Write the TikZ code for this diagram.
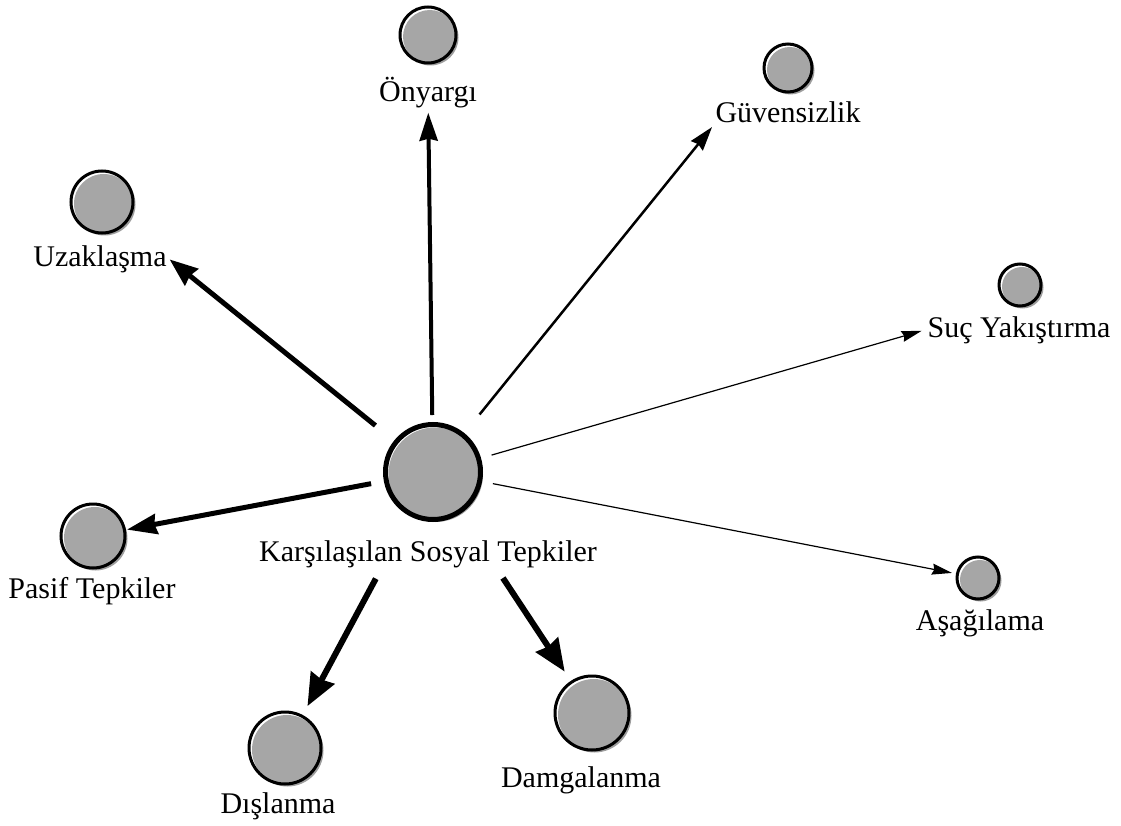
\documentclass[tikz,border=0pt]{standalone}
\usepackage{fontspec}
\setmainfont{Liberation Serif}
\usepackage{xcolor}
\usetikzlibrary{arrows.meta,shadows,calc}
\definecolor{ballgray}{HTML}{A6A6A6}
\definecolor{shadowgray}{HTML}{9E9E9E}

\begin{document}
\begin{tikzpicture}[x=1pt,y=-1pt,
    ball/.style={circle, draw, line width=3pt, fill=white, inner sep=0pt,
        minimum size=#1,
        drop shadow={shadow xshift=2.5pt, shadow yshift=-2.5pt, fill=shadowgray, opacity=1},
        path picture={\fill[ballgray] ($(path picture bounding box.center)+(1.8pt,-1.8pt)$) circle[radius=#1/2-1.2pt];}},
    lbl/.style={font=\fontsize{30}{36}\selectfont, inner sep=2pt, anchor=base},
    arr/.style 2 args={-{Stealth[length=#1, width=#2, inset=2pt]}}]
                \useasboundingbox[fill=white] (0,0) rectangle (1121,826);
                % the centre
                \node[ball=95pt, line width=5pt] (c) at (433,472) {};
                \node[lbl] (cl) at (428,561) {Karşılaşılan Sosyal Tepkiler};
                % the reactions
                \node[ball=56pt] (oy) at (428,35) {};
                \node[lbl] (oyl) at (428,102) {Önyargı};
                \node[ball=48pt] (gv) at (788,68) {};
                \node[lbl] (gvl) at (788,123) {Güvensizlik};
                \node[ball=62pt] (uz) at (102,202) {};
                \node[lbl] (uzl) at (100,266) {Uzaklaşma};
                \node[ball=42pt] (su) at (1020,285) {};
                \node[lbl] (sul) at (1019,337) {Suç Yakıştırma};
                \node[ball=64pt] (pt) at (93,536) {};
                \node[lbl] (ptl) at (92,598) {Pasif Tepkiler};
                \node[ball=72pt] (dl) at (285,748) {};
                \node[lbl] (dll) at (278,813) {Dışlanma};
                \node[ball=74pt] (dm) at (592,713) {};
                \node[lbl] (dml) at (581,787) {Damgalanma};
                \node[ball=42pt] (as) at (978,578) {};
                \node[lbl] (asl) at (980,630) {Aşağılama};
                % arrows
                \draw[arr={28pt}{18pt}, line width=4pt, shorten <=7pt, shorten >=2pt] (c) -- (oyl);
                \draw[arr={24pt}{15pt}, line width=2.5pt, shorten <=24pt, shorten >=2pt] (c) -- (gvl.south west);
                \draw[arr={28pt}{21pt}, line width=5pt, shorten <=24pt, shorten >=1pt] (c) -- (uzl.east);
                \draw[arr={20pt}{11pt}, line width=1.2pt, shorten <=11pt, shorten >=4pt] (c) -- (sul.west);
                \draw[arr={30pt}{20pt}, line width=5pt, shorten <=13pt, shorten >=1pt] (c) -- (pt);
                \draw[arr={32pt}{26pt}, line width=6pt, shorten <=71pt, shorten >=10pt] (c) -- (dl);
                \draw[arr={32pt}{26pt}, line width=6pt, shorten <=77pt, shorten >=11pt] (c) -- (dm);
                \draw[arr={20pt}{11pt}, line width=1.2pt, shorten <=11pt, shorten >=4pt] (c) -- (as);
            \end{tikzpicture}
\end{document}
